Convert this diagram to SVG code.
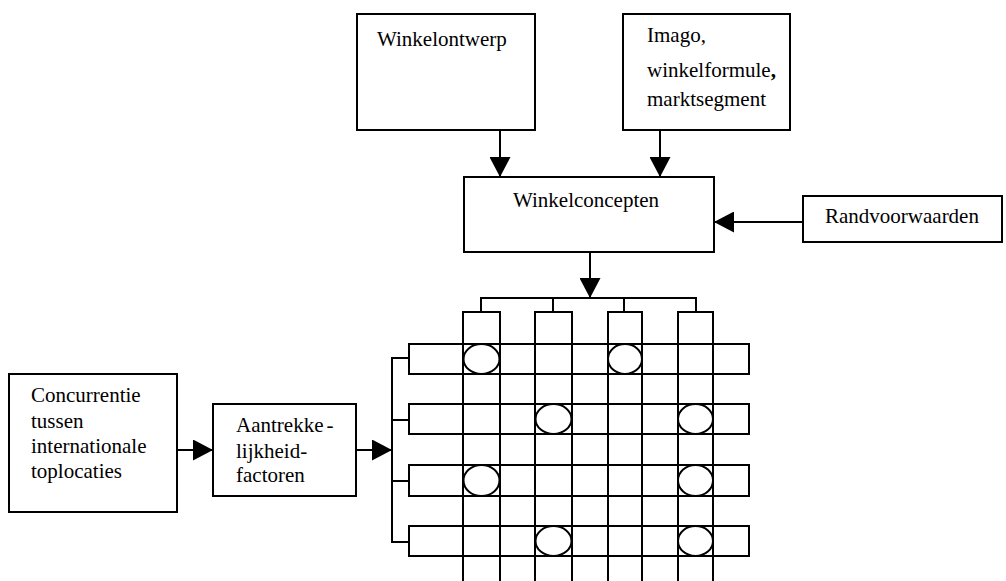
<svg xmlns="http://www.w3.org/2000/svg" width="1006" height="581" viewBox="0 0 1006 581">
<style>
.box{fill:#fff;stroke:#000;stroke-width:2}
.ln{fill:none;stroke:#000;stroke-width:2}
.g{fill:none;stroke:#000;stroke-width:2}
.ov{fill:#fff;stroke:#000;stroke-width:2}
.t{font-family:'Liberation Serif','DejaVu Serif',serif;font-size:21px;fill:#000}
</style>
<defs>
<marker id="ah" markerUnits="userSpaceOnUse" markerWidth="21" markerHeight="21" refX="20" refY="10.5" orient="auto">
<path d="M0,0 L20,10.5 L0,21 Z" fill="#000"/>
</marker>
</defs>
<g class="t">
<g id="winkelontwerp"><rect class="box" x="357" y="14" width="178" height="116"/><text x="377" y="46">Winkelontwerp</text></g>
<g id="imago"><rect class="box" x="623" y="14" width="167" height="116"/><text x="647" y="42">Imago,</text><text x="647" y="77">winkelformule<tspan font-weight="bold">,</tspan></text><text x="647" y="106">marktsegment</text></g>
<g id="winkelconcepten"><rect class="box" x="464" y="177" width="250" height="75"/><text x="513" y="207">Winkelconcepten</text></g>
<g id="randvoorwaarden"><rect class="box" x="803" y="196" width="199" height="46"/><text x="825" y="223">Randvoorwaarden</text></g>
<g id="concurrentie"><rect class="box" x="9" y="374" width="168" height="138"/><text x="31" y="402">Concurrentie</text><text x="31" y="428">tussen</text><text x="31" y="453">internationale</text><text x="31" y="478">toplocaties</text></g>
<g id="aantrekkelijkheid"><rect class="box" x="213" y="404" width="143" height="92"/><text x="236" y="432">Aantrekke<tspan dx="3">-</tspan></text><text x="236" y="458">lijkheid-</text><text x="236" y="482">factoren</text></g>
</g>
<g id="grid">
<path class="g" d="M463,590 V312 H500 V590 M535,590 V312 H572 V590 M608,590 V312 H642 V590 M678,590 V312 H713 V590"/>
<rect class="g" x="409" y="344" width="340" height="30"/>
<rect class="g" x="409" y="404" width="340" height="30"/>
<rect class="g" x="409" y="465" width="340" height="31"/>
<rect class="g" x="409" y="526" width="340" height="30"/>
<ellipse class="ov" cx="481.5" cy="359" rx="18" ry="15"/>
<ellipse class="ov" cx="625" cy="359" rx="17" ry="15"/>
<ellipse class="ov" cx="553.5" cy="419" rx="18" ry="15"/>
<ellipse class="ov" cx="695.5" cy="419" rx="17.5" ry="15"/>
<ellipse class="ov" cx="481.5" cy="480.5" rx="18" ry="15.5"/>
<ellipse class="ov" cx="695.5" cy="480.5" rx="17.5" ry="15.5"/>
<ellipse class="ov" cx="553.5" cy="541" rx="18" ry="15"/>
<ellipse class="ov" cx="695.5" cy="541" rx="17.5" ry="15"/>
</g>
<g id="connectors">
<line class="ln" x1="500" y1="130" x2="500" y2="177" marker-end="url(#ah)"/>
<line class="ln" x1="660" y1="130" x2="660" y2="177" marker-end="url(#ah)"/>
<line class="ln" x1="803" y1="222" x2="714" y2="222" marker-end="url(#ah)"/>
<line class="ln" x1="590" y1="252" x2="590" y2="298" marker-end="url(#ah)"/>
<polyline class="ln" points="481,312 481,298 696,298 696,312"/>
<line class="ln" x1="553" y1="298" x2="553" y2="312"/>
<line class="ln" x1="624" y1="298" x2="624" y2="312"/>
<line class="ln" x1="177" y1="450" x2="213" y2="450" marker-end="url(#ah)"/>
<line class="ln" x1="356" y1="450" x2="392" y2="450" marker-end="url(#ah)"/>
<polyline class="ln" points="409,358 392,358 392,542 409,542"/>
<line class="ln" x1="392" y1="420" x2="409" y2="420"/>
<line class="ln" x1="392" y1="481" x2="409" y2="481"/>
</g>
</svg>
